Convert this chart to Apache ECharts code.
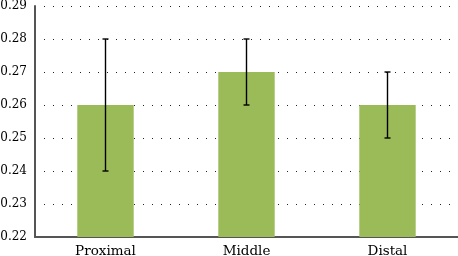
<!DOCTYPE html>
<html>
<head>
	<meta charset="utf-8">
	<title>Bars</title>
	<script src="https://cdn.jsdelivr.net/npm/echarts@6/dist/echarts.min.js"></script>
	<style>body{margin:0;background:#fff;}</style>
</head>
<body>
	<div id="main" style="width: 458px;height:256px;"></div>
	<script type="text/javascript">
	var categories = ['Proximal', 'Middle', 'Distal'];
	var values = [0.26, 0.27, 0.26];
	var errLow = [0.24, 0.26, 0.25];
	var errHigh = [0.28, 0.28, 0.27];
	var yTicks = [0.22, 0.23, 0.24, 0.25, 0.26, 0.27, 0.28, 0.29];

	var myChart = echarts.init(document.getElementById('main'));
	var font = 'DejaVu Serif';

	var errData = categories.map(function (c, i) {
		return [i, errLow[i], errHigh[i]];
	});

	var option = {
		animation: false,
		grid: { left: 35, right: 0, top: 6, bottom: 19, outerBoundsMode: 'none', containLabel: false },
		xAxis: {
			type: 'category',
			data: categories,
			axisLine: { lineStyle: { color: '#555', width: 2 } },
			axisTick: { show: false },
			axisLabel: { color: '#000', fontFamily: font, fontSize: 13.5, margin: 7 }
		},
		yAxis: {
			type: 'value',
			min: yTicks[0],
			max: yTicks[yTicks.length - 1],
			interval: 0.01,
			axisLine: { show: true, lineStyle: { color: '#555', width: 2 } },
			axisTick: { show: false },
			axisLabel: {
				color: '#000', fontFamily: font, fontSize: 12, margin: 8,
				formatter: function (v) { return v.toFixed(2); }
			},
			splitLine: { lineStyle: { color: '#222', type: [1, 8], width: 1 } }
		},
		series: [{
			type: 'bar',
			data: values,
			barWidth: '40%',
			itemStyle: { color: '#9BBB59' }
		}, {
			type: 'custom',
			data: errData,
			z: 10,
			renderItem: function (params, api) {
				var x = api.value(0);
				var lo = api.coord([x, api.value(1)]);
				var hi = api.coord([x, api.value(2)]);
				var hw = 3;
				var st = { stroke: '#000', lineWidth: 1.4 };
				return {
					type: 'group',
					children: [
						{ type: 'line', shape: { x1: lo[0], y1: lo[1], x2: hi[0], y2: hi[1] }, style: st },
						{ type: 'line', shape: { x1: lo[0] - hw, y1: lo[1], x2: lo[0] + hw, y2: lo[1] }, style: st },
						{ type: 'line', shape: { x1: hi[0] - hw, y1: hi[1], x2: hi[0] + hw, y2: hi[1] }, style: st }
					]
				};
			}
		}]
	};
	myChart.setOption(option);
	</script>
</body>
</html>
